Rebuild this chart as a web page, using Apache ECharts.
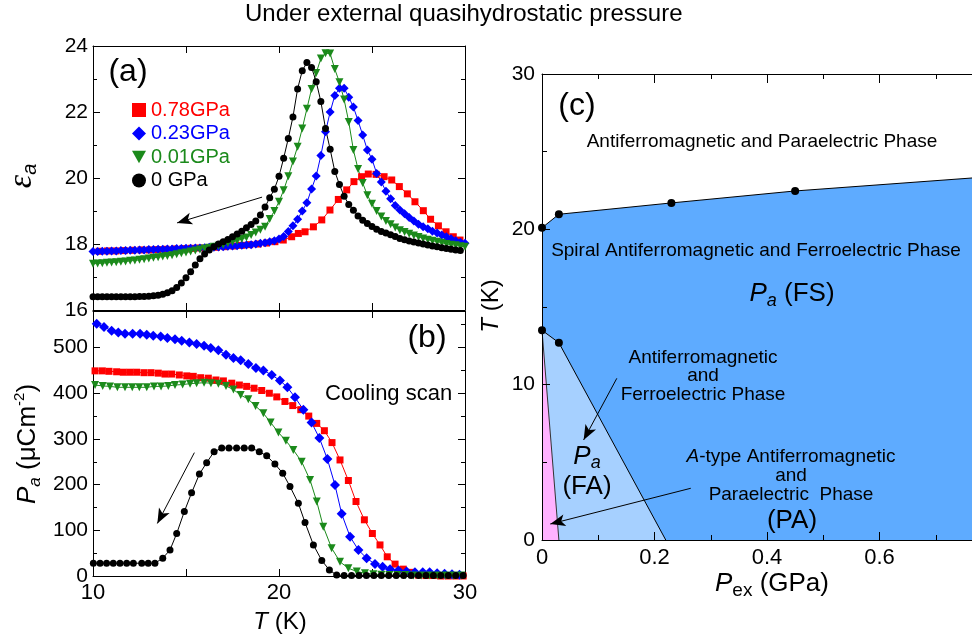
<!DOCTYPE html>
<html>
<head>
<meta charset="utf-8">
<title>Under external quasihydrostatic pressure</title>
<script src="https://cdn.jsdelivr.net/npm/echarts@6/dist/echarts.min.js"></script>
<style>
  html, body { margin: 0; padding: 0; background: #fff; }
  #chart { width: 972px; height: 641px; }
</style>
</head>
<body>
<div id="chart"></div>
<script>
var FONT = '"Liberation Sans", Arial, Helvetica, sans-serif';
var RED = '#ff0000', BLUE = '#0000ff', GREEN = '#1b8a1b', BLACK = '#000000';
var FS_BLUE = '#5eabff', FA_BLUE = '#a6d0ff', PINK = '#ffb2ff';

// ---- panel (a): dielectric constant vs T ----
var tA = [10,10.25,10.5,10.75,11,11.25,11.5,11.75,12,12.25,
          12.5,12.75,13,13.25,13.5,13.75,14,14.25,14.5,14.75,
          15,15.25,15.5,15.75,16,16.25,16.5,16.75,17,17.25,
          17.5,17.75,18,18.25,18.5,18.75,19,19.25,19.5,19.75,
          20,20.25,20.5,20.75,21,21.25,21.5,21.75,22,22.25,
          22.5,22.75,23,23.25,23.5,23.75,24,24.25,24.5,24.75,
          25,25.25,25.5,25.75,26,26.25,26.5,26.75,27,27.25,
          27.5,27.75,28,28.25,28.5,28.75,29,29.25,29.5,29.75,
          30];
var epsBlack = [16.40,16.40,16.40,16.40,16.40,16.40,16.40,16.40,16.40,16.40,
                16.41,16.41,16.42,16.43,16.45,16.48,16.52,16.58,16.68,16.82,
                16.98,17.16,17.36,17.55,17.70,17.82,17.92,18.00,18.07,18.14,
                18.22,18.30,18.39,18.49,18.59,18.70,18.88,19.12,19.40,19.66,
                20.05,20.60,21.20,21.85,22.70,23.25,23.50,23.35,22.92,22.32,
                21.50,20.87,20.20,19.80,19.45,19.20,19.02,18.85,18.72,18.62,
                18.53,18.45,18.38,18.33,18.28,18.23,18.17,18.13,18.09,18.06,
                18.03,18.00,17.97,17.94,17.92,17.89,17.86,17.84,17.82,17.80];
var epsGreen = [17.40,17.41,17.42,17.43,17.44,17.45,17.46,17.47,17.49,17.50,
                17.52,17.54,17.56,17.58,17.60,17.62,17.64,17.66,17.69,17.72,
                17.74,17.77,17.80,17.83,17.86,17.89,17.92,17.95,17.98,18.02,
                18.06,18.10,18.15,18.20,18.27,18.35,18.43,18.52,18.76,19.00,
                19.28,19.63,20.05,20.50,20.95,21.50,22.10,22.70,23.18,23.62,
                23.78,23.77,23.30,22.90,22.38,21.70,20.85,20.27,19.85,19.48,
                19.22,19.00,18.83,18.70,18.60,18.50,18.42,18.36,18.31,18.26,
                18.21,18.17,18.13,18.10,18.07,18.04,18.00,17.98,17.96,17.93,
                17.92];
var epsBlue = [17.77,17.77,17.78,17.78,17.79,17.79,17.80,17.80,17.81,17.81,
               17.82,17.82,17.83,17.83,17.84,17.84,17.85,17.85,17.86,17.86,
               17.87,17.87,17.88,17.88,17.89,17.90,17.90,17.91,17.92,17.93,
               17.94,17.95,17.96,17.97,17.98,18.00,18.02,18.04,18.07,18.10,
               18.15,18.23,18.38,18.55,18.75,19.00,19.25,19.67,20.06,20.68,
               21.40,22.00,22.50,22.72,22.72,22.45,22.15,21.74,21.30,20.85,
               20.57,20.14,19.88,19.60,19.37,19.17,19.03,18.92,18.80,18.70,
               18.60,18.52,18.46,18.39,18.33,18.27,18.22,18.16,18.10,18.05,
               18.02];
var tRedA = [10.33,10.78,11.23,11.68,12.13,12.58,13.03,13.48,13.93,14.38,
             14.83,15.28,15.73,16.18,16.63,17.08,17.53,17.98,18.43,18.88,
             19.33,19.78,20.23,20.68,21.04,21.4,21.85,22.3,22.74,23.19,
             23.64,24.03,24.44,24.8,25.22,25.65,26.06,26.47,26.9,27.31,
             27.76,28.15,28.57,28.98,29.37,29.73];
var epsRed = [17.78,17.79,17.79,17.80,17.81,17.82,17.82,17.83,17.84,17.85,
              17.86,17.87,17.88,17.89,17.90,17.92,17.94,17.96,17.98,18.00,
              18.03,18.07,18.12,18.22,18.32,18.37,18.52,18.73,19.03,19.35,
              19.64,19.89,20.04,20.12,20.11,20.04,19.94,19.74,19.52,19.28,
              19.01,18.75,18.55,18.37,18.22,18.12];

// ---- panel (b): polarization vs T ----
var tBlackB = [10.02,10.38,10.73,11.09,11.45,11.81,12.17,12.62,12.97,13.33,
               13.75,14.14,14.5,14.91,15.3,15.72,16.11,16.51,16.92,17.31,
               17.72,18.13,18.53,18.94,19.34,19.78,20.2,20.59,21.04,21.4,
               21.85,22.3,22.71,23.1,23.5,23.9,24.3,24.7,25.1,25.5,
               25.9,26.3,26.7,27.1,27.5,27.9,28.3,28.7,29.1,29.5,29.9];
var polBlack = [28,28,28,28,28,28,28,28,28,28,
                39,57,93,141,182,223,248,272,280,280,
                280,280,280,272,263,245,225,196,159,117,
                68,34,13,2,1,1,1,1,1,1,
                1,1,1,1,1,1,1,1,1,1,1];
var tRedB = [10.11,10.5,10.86,11.27,11.63,11.99,12.35,12.74,13.12,13.51,
             13.87,14.23,14.64,15.04,15.39,15.79,16.2,16.61,17.01,17.46,
             17.87,18.26,18.66,19.07,19.48,19.88,20.32,20.74,21.17,21.6,
             22.03,22.44,22.85,23.28,23.73,24.14,24.59,25.02,25.43,25.82,
             26.24,26.68,27.08,27.49,27.9,28.3,28.7,29.1,29.5,29.9];
var polRed = [449,449,448,447,446,446,446,445,445,444,
              442,442,440,438,437,434,433,429,427,422,
              418,415,411,406,400,392,382,373,364,350,
              334,318,292,254,209,163,123,93,68,42,
              26,15,8,2,1,1,0,0,0,0];
var tBlueB = [10.2,10.59,11.0,11.36,11.72,12.13,12.53,12.89,13.24,13.64,
              14.0,14.41,14.77,15.18,15.57,15.97,16.33,16.74,17.15,17.55,
              17.94,18.35,18.76,19.16,19.61,20.05,20.45,20.86,21.31,21.75,
              22.17,22.6,23.01,23.37,23.82,24.27,24.71,25.16,25.57,25.97,
              26.42,26.86,27.31,27.73,28.1,28.5,28.9,29.3,29.7];
var polBlue = [552,545,537,533,530,530,530,528,526,524,
               521,518,515,511,508,504,499,494,484,477,
               472,464,455,450,440,428,413,391,364,336,
               302,256,199,136,86,57,39,26,20,15,
               12,10,8,8,8,6,5,4,3];
var tGreenB = [10.11,10.52,10.91,11.31,11.72,12.11,12.49,12.89,13.28,13.66,
               14.05,14.41,14.82,15.22,15.57,15.97,16.34,16.74,17.15,17.55,
               17.94,18.35,18.74,19.16,19.55,19.97,20.37,20.77,21.22,21.67,
               22.03,22.38,22.83,23.28,23.73,24.18,24.62,25.07,25.5,25.93,
               26.36,26.79,27.22,27.65,28.08,28.51,28.94,29.37,29.8];
var polGreen = [418,416,415,413,413,413,413,413,415,415,
                416,418,419,421,422,423,422,421,416,408,
                396,387,372,356,336,314,296,276,250,210,
                163,108,61,31,17,10,6,4,3,2,
                2,2,1,1,1,1,1,1,1];

// ---- panel (c): phase diagram ----
var fsBoundaryP = [0, 0.03, 0.23, 0.45, 0.8];
var fsBoundaryT = [20.1, 20.97, 21.7, 22.47, 23.4];
var faBoundaryP = [0, 0.03, 0.22];
var faBoundaryT = [13.5, 12.7, 0];
var paBoundaryP = [0, 0.03];
var paBoundaryT = [13.5, 0];
var pointsP = [0, 0.03, 0.23, 0.45, 0, 0.03];
var pointsT = [20.1, 20.97, 21.7, 22.47, 13.5, 12.7];

// arrows, [start, end] in data units
var arrowA = [[19.09, 19.42], [14.52, 18.64]];
var arrowB = [[15.45, 270], [13.46, 115]];
var arrowFA = [[0.133, 10.41], [0.074, 6.44]];
var arrowPA = [[0.2645, 3.33], [0.0147, 1.03]];

var legendNames = ['0.78GPa', '0.23GPa', '0.01GPa', '0 GPa'];

function zip(xs, ys) {
  return ys.map(function (v, i) { return [xs[i], v]; });
}

function frameAxis(grid, pos, min, max, interval, len, extra) {
  var a = {
    type: 'value', gridIndex: grid, position: pos, min: min, max: max, interval: interval,
    axisLine: { show: true, onZero: false, lineStyle: { color: '#000', width: 1 } },
    axisTick: { show: true, inside: true, length: len, lineStyle: { color: '#000', width: 1 } },
    axisLabel: { show: false },
    splitLine: { show: false },
    minorTick: { show: false },
    minorSplitLine: { show: false }
  };
  return Object.assign(a, extra || {});
}
function minor(split, len) {
  return { show: true, splitNumber: split, length: len, lineStyle: { color: '#000', width: 1 } };
}
function tickLabel(size, margin, extra) {
  return Object.assign({ show: true, color: '#000', fontSize: size, fontFamily: FONT, margin: margin }, extra || {});
}

function arrowLine(pair) {
  return {
    silent: true, animation: false,
    symbol: ['none', 'arrow'], symbolSize: [9, 15],
    label: { show: false },
    emphasis: { disabled: true },
    lineStyle: { color: '#000', width: 1, type: 'solid', opacity: 1 },
    itemStyle: { color: '#000', opacity: 1 },
    data: pair.map(function (p) { return [{ coord: p[0] }, { coord: p[1] }]; })
  };
}

function curve(name, xi, yi, data, color, symbol, size, extra) {
  return Object.assign({
    name: name, type: 'line', xAxisIndex: xi, yAxisIndex: yi, data: data,
    symbol: symbol, symbolSize: size, showSymbol: true,
    itemStyle: { color: color, opacity: 1 },
    lineStyle: { color: color, width: 1 },
    emphasis: { disabled: true },
    animation: false
  }, extra || {});
}

function rs(size, extra) {
  return Object.assign({ fontSize: size, fontFamily: FONT, fill: '#000' }, extra || {});
}
function label(x, y, style, rot) {
  return {
    type: 'text', x: x, y: y, rotation: rot || 0, silent: true, z: 100,
    style: Object.assign({ fill: '#000', fontFamily: FONT, align: 'center', verticalAlign: 'middle' }, style)
  };
}

var chart = echarts.init(document.getElementById('chart'));

var option = {
  animation: false,
  textStyle: { fontFamily: FONT },
  grid: [
    { left: 93, top: 46, width: 372, height: 264, outerBoundsMode: 'none' },
    { left: 93, top: 311, width: 372, height: 265, outerBoundsMode: 'none' },
    { left: 542, top: 74, width: 450, height: 466, outerBoundsMode: 'none' }
  ],
  legend: {
    orient: 'vertical', left: 132, top: 100, padding: 0,
    itemWidth: 14, itemHeight: 14, itemGap: 3.5, selectedMode: false,
    textStyle: { fontSize: 20, fontFamily: FONT },
    data: [
      { name: legendNames[0], icon: 'rect', textStyle: { color: RED } },
      { name: legendNames[1], icon: 'diamond', textStyle: { color: BLUE } },
      { name: legendNames[2], icon: 'path://M0,0L10,0L5,9Z', textStyle: { color: GREEN } },
      { name: legendNames[3], icon: 'circle', textStyle: { color: BLACK } }
    ]
  },
  xAxis: [
    frameAxis(0, 'bottom', 10, 30, 5, 7),
    frameAxis(0, 'top', 10, 30, 5, 7),
    frameAxis(1, 'bottom', 10, 30, 5, 7, {
      axisLabel: tickLabel(22, 6, { formatter: function (v) { return v % 10 === 0 ? String(v) : ''; } })
    }),
    frameAxis(1, 'top', 10, 30, 5, 7),
    frameAxis(2, 'bottom', 0, 0.8, 0.2, 8, { z: 5, minorTick: minor(2, 5), axisLabel: tickLabel(22, 7) }),
    frameAxis(2, 'top', 0, 0.8, 0.2, 9, { z: 5, minorTick: minor(2, 5) })
  ],
  yAxis: [
    frameAxis(0, 'left', 16, 24, 2, 7, { minorTick: minor(2, 4), axisLabel: tickLabel(21, 5) }),
    frameAxis(0, 'right', 16, 24, 2, 7, { minorTick: minor(2, 4) }),
    frameAxis(1, 'left', 0, 580, 100, 7, { axisLabel: tickLabel(21, 5, { showMaxLabel: false }) }),
    frameAxis(1, 'left', 0, 580, 50, 4, { axisLine: { show: false } }),
    frameAxis(1, 'right', 0, 580, 100, 7),
    frameAxis(1, 'right', 0, 580, 50, 4, { axisLine: { show: false } }),
    frameAxis(2, 'left', 0, 30, 10, 8, { z: 5, minorTick: minor(2, 5), axisLabel: tickLabel(21, 7) })
  ],
  series: [
    // (a)
    curve(legendNames[0], 0, 0, zip(tRedA, epsRed), RED, 'rect', 7),
    curve(legendNames[1], 0, 0, zip(tA, epsBlue), BLUE, 'diamond', 9),
    curve(legendNames[2], 0, 0, zip(tA, epsGreen), GREEN, 'triangle', 8, { symbolRotate: 180 }),
    curve(legendNames[3], 0, 0, zip(tA, epsBlack), BLACK, 'circle', 7, { markLine: arrowLine([arrowA]) }),
    // (b)
    curve(legendNames[0], 2, 2, zip(tRedB, polRed), RED, 'rect', 7),
    curve(legendNames[1], 2, 2, zip(tBlueB, polBlue), BLUE, 'diamond', 10),
    curve(legendNames[2], 2, 2, zip(tGreenB, polGreen), GREEN, 'triangle', 8, { symbolRotate: 180 }),
    curve(legendNames[3], 2, 2, zip(tBlackB, polBlack), BLACK, 'circle', 7, { markLine: arrowLine([arrowB]) }),
    // (c)
    {
      type: 'line', xAxisIndex: 4, yAxisIndex: 6, data: zip(fsBoundaryP, fsBoundaryT),
      symbol: 'none', lineStyle: { color: '#000', width: 1 },
      areaStyle: { color: FS_BLUE, opacity: 1 }, emphasis: { disabled: true }, silent: true
    },
    {
      type: 'line', xAxisIndex: 4, yAxisIndex: 6, data: zip(faBoundaryP, faBoundaryT),
      symbol: 'none', lineStyle: { color: '#000', width: 1 },
      areaStyle: { color: FA_BLUE, opacity: 1 }, emphasis: { disabled: true }, silent: true
    },
    {
      type: 'line', xAxisIndex: 4, yAxisIndex: 6, data: zip(paBoundaryP, paBoundaryT),
      symbol: 'none', lineStyle: { color: '#333', width: 1 },
      areaStyle: { color: PINK, opacity: 1 }, emphasis: { disabled: true }, silent: true
    },
    {
      type: 'scatter', xAxisIndex: 4, yAxisIndex: 6, data: zip(pointsP, pointsT),
      symbol: 'circle', symbolSize: 8, itemStyle: { color: '#000', opacity: 1 },
      clip: false, z: 10,
      emphasis: { disabled: true }, silent: true,
      markLine: arrowLine([arrowFA, arrowPA])
    }
  ],
  graphic: [
    label(245, 14, { text: 'Under external quasihydrostatic pressure', fontSize: 24, align: 'left' }),
    label(128, 72, { text: '(a)', fontSize: 32 }),
    label(427, 338, { text: '(b)', fontSize: 32 }),
    label(577, 106, { text: '(c)', fontSize: 32 }),
    label(325, 394, { text: 'Cooling scan', fontSize: 22, align: 'left' }),
    label(22, 176, {
      text: '{e|ε}{s|a}',
      rich: {
        e: rs(34, { fontStyle: 'italic', fontFamily: '"Liberation Serif", "DejaVu Serif", serif', lineHeight: 36 }),
        s: rs(20, { fontStyle: 'italic', verticalAlign: 'bottom' })
      }
    }, Math.PI / 2),
    label(28, 444, {
      text: '{p|P}{s|a}{n| (μCm}{u|-2}{n|)}',
      rich: {
        p: rs(26, { fontStyle: 'italic', lineHeight: 32 }),
        s: rs(17, { fontStyle: 'italic', verticalAlign: 'bottom' }),
        n: rs(26, { lineHeight: 32 }),
        u: rs(15, { verticalAlign: 'top' })
      }
    }, Math.PI / 2),
    label(280, 622, {
      text: '{p|T}{n| (K)}',
      rich: { p: rs(24, { fontStyle: 'italic' }), n: rs(24) }
    }),
    label(491, 306, {
      text: '{p|T}{n| (K)}',
      rich: { p: rs(24, { fontStyle: 'italic' }), n: rs(24) }
    }, Math.PI / 2),
    label(772, 584, {
      text: '{p|P}{s|ex}{n| (GPa)}',
      rich: {
        p: rs(26, { fontStyle: 'italic', lineHeight: 32 }),
        s: rs(19, { verticalAlign: 'bottom' }),
        n: rs(26, { lineHeight: 32 })
      }
    }),
    label(762, 142, { text: 'Antiferromagnetic and Paraelectric Phase', fontSize: 19 }),
    label(756, 251, { text: 'Spiral Antiferromagnetic and Ferroelectric Phase', fontSize: 19 }),
    label(792, 294, {
      text: '{p|P}{s|a}{n| (FS)}',
      rich: {
        p: rs(26, { fontStyle: 'italic', lineHeight: 32 }),
        s: rs(18, { fontStyle: 'italic', verticalAlign: 'bottom' }),
        n: rs(26, { lineHeight: 32 })
      }
    }),
    label(703, 376, { text: 'Antiferromagnetic\nand\nFerroelectric Phase', fontSize: 19, lineHeight: 18.5 }),
    label(587, 472, {
      text: '{p|P}{s|a}\n{n|(FA)}',
      rich: {
        p: rs(26, { fontStyle: 'italic', lineHeight: 30 }),
        s: rs(18, { fontStyle: 'italic', verticalAlign: 'bottom' }),
        n: rs(26, { lineHeight: 30 })
      }
    }),
    label(791, 476, {
      text: '{i|A}{n|-type Antiferromagnetic}\n{n|and}\n{n|Paraelectric  Phase}',
      rich: {
        i: rs(19, { fontStyle: 'italic', lineHeight: 19 }),
        n: rs(19, { lineHeight: 19 })
      }
    }),
    label(792, 521, { text: '(PA)', fontSize: 26 })
  ]
};

chart.setOption(option);
</script>
</body>
</html>
